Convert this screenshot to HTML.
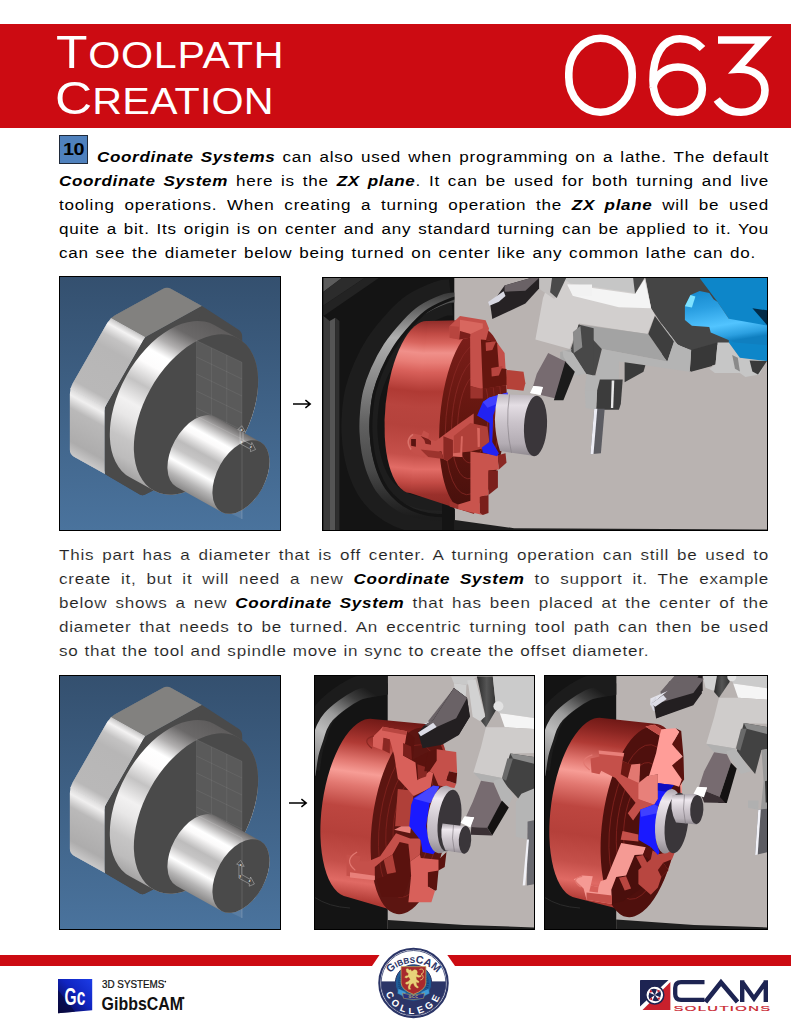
<!DOCTYPE html>
<html><head><meta charset="utf-8">
<style>
html,body{margin:0;padding:0;background:#fff;}
body{width:791px;height:1024px;position:relative;overflow:hidden;font-family:"Liberation Sans",sans-serif;}
.abs{position:absolute;}
.hdr{left:0;top:23.5px;width:791px;height:104px;background:#cc0b12;}
.ttl{color:#fff;white-space:nowrap;transform-origin:0 0;line-height:1;transform:scaleX(1.1);letter-spacing:1px;}
.ln{position:absolute;left:59px;height:24px;line-height:24px;font-size:15.5px;color:#000;white-space:nowrap;
    transform-origin:0 0;transform:scaleX(1.1);letter-spacing:0.7px;text-align:justify;text-align-last:justify;width:645.5px;}
.ln b{font-style:italic;font-weight:bold;letter-spacing:0.6px;}
.lt{color:#222;-webkit-text-stroke:0.12px #fff;}
.lt b{-webkit-text-stroke:0;color:#000;}
.frame{position:absolute;box-sizing:border-box;border:1px solid #000;overflow:hidden;}
</style></head><body>
<!-- header -->
<div class="abs hdr"></div>
<div class="abs ttl" id="t1" style="left:56px;top:29.3px;letter-spacing:0.65px"><span style="font-size:46.8px">T</span><span style="font-size:37.5px">OOLPATH</span></div>
<div class="abs ttl" id="t2" style="left:55px;top:74.9px;letter-spacing:0.15px"><span style="font-size:46.8px">C</span><span style="font-size:37.5px">REATION</span></div>
<svg class="abs" style="left:550px;top:23px" width="241" height="105" viewBox="550 23 241 105">
 <g fill="none" stroke="#fff" stroke-width="7.6">
  <rect x="568.8" y="38.3" width="63.4" height="74" rx="31.7" ry="35"/>
  <path d="M702.5,48.5 C696,41.5 688,38.8 680,38.8 C662,38.8 653,56 653,80 C653,100 662,112.2 677.5,112.2 C692,112.2 702.3,102 702.3,89 C702.3,76 692,67 678,67 C664,67 654,77 653,88"/>
  <path d="M718,40 L763.5,40 L737,69.3 C753,68.3 765,77 765,90 C765,103 755,112.2 741,112.2 C730,112.2 722,107 716.8,99.5"/>
 </g>
</svg>
<!-- step box -->
<div class="abs" style="left:59px;top:135px;width:29px;height:28.5px;box-sizing:border-box;border:1px solid #1f2a3a;background:#4f81bd;"></div>
<div class="abs" id="n10" style="left:59px;top:135px;width:29px;height:28px;line-height:29px;text-align:center;font-weight:bold;font-size:16.5px;letter-spacing:-0.5px;color:#000;transform:scaleX(1.2);">10</div>
<!-- paragraph 1 -->
<div class="ln" style="top:144.9px;left:97px;width:610.9px"><b>Coordinate Systems</b> can also used when programming on a lathe. The default</div>
<div class="ln" style="top:168.9px"><b>Coordinate System</b> here is the <b>ZX plane</b>. It can be used for both turning and live</div>
<div class="ln" style="top:192.9px">tooling operations. When creating a turning operation the <b>ZX plane</b> will be used</div>
<div class="ln" style="top:216.9px">quite a bit. Its origin is on center and any standard turning can be applied to it. You</div>
<div class="ln" style="top:241.1px;width:633.6px">can see the diameter below being turned on center like any common lathe can do.</div>
<!-- paragraph 2 -->
<div class="ln lt" style="top:543px">This part has a diameter that is off center. A turning operation can still be used to</div>
<div class="ln lt" style="top:566.9px">create it, but it will need a new <b>Coordinate System</b> to support it. The example</div>
<div class="ln lt" style="top:590.8px">below shows a new <b>Coordinate System</b> that has been placed at the center of the</div>
<div class="ln lt" style="top:614.7px">diameter that needs to be turned. An eccentric turning tool path can then be used</div>
<div class="ln lt" style="top:638.6px;width:536.6px">so that the tool and spindle move in sync to create the offset diameter.</div>

<!-- image frames -->
<div class="frame" id="im1" style="left:59px;top:276px;width:222px;height:255px;background:linear-gradient(#34506f,#4a739d);"><svg class="abs" style="left:-1px;top:-1px" width="222" height="255" viewBox="0 0 222 255"><g id="part">
<defs>
<linearGradient id="gFl" gradientUnits="userSpaceOnUse" x1="167.2" y1="55.8" x2="82.8" y2="207.9"><stop offset="0" stop-color="#5e5c5c"/><stop offset="0.12" stop-color="#6a6868"/><stop offset="0.22" stop-color="#b0aeae"/><stop offset="0.3" stop-color="#ffffff"/><stop offset="0.38" stop-color="#fdfcfc"/><stop offset="0.5" stop-color="#c4c3c3"/><stop offset="0.62" stop-color="#f2f1f1"/><stop offset="0.7" stop-color="#e8e7e7"/><stop offset="0.82" stop-color="#c6c5c5"/><stop offset="0.92" stop-color="#bdbcbc"/><stop offset="1" stop-color="#a5a4a4"/></linearGradient>
<linearGradient id="gCy" gradientUnits="userSpaceOnUse" x1="178.9" y1="153.5" x2="140.1" y2="223.5"><stop offset="0" stop-color="#6c6a6a"/><stop offset="0.1" stop-color="#a5a3a3"/><stop offset="0.25" stop-color="#ffffff"/><stop offset="0.32" stop-color="#fbfafa"/><stop offset="0.48" stop-color="#bdbcbc"/><stop offset="0.58" stop-color="#c6c5c5"/><stop offset="0.72" stop-color="#ffffff"/><stop offset="0.88" stop-color="#b5b4b4"/><stop offset="1" stop-color="#8a8989"/></linearGradient>
<linearGradient id="gH1" gradientUnits="userSpaceOnUse" x1="51" y1="42" x2="12" y2="112"><stop offset="0" stop-color="#c9c8c8"/><stop offset="0.07" stop-color="#f4f3f3"/><stop offset="0.2" stop-color="#c4c3c3"/><stop offset="0.35" stop-color="#b7b6b6"/><stop offset="0.9" stop-color="#b9b8b8"/><stop offset="1" stop-color="#d9d8d8"/></linearGradient>
<linearGradient id="gH2" gradientUnits="userSpaceOnUse" x1="11" y1="112" x2="-17" y2="163"><stop offset="0" stop-color="#dcdbdb"/><stop offset="0.1" stop-color="#f0efef"/><stop offset="0.3" stop-color="#bab9b9"/><stop offset="0.8" stop-color="#adacac"/><stop offset="1" stop-color="#c9c8c8"/></linearGradient>
<clipPath id="hexc"><path d="M112.4,12.9 Q108.0,10.5 103.6,12.9 L56.3,39.1 Q51.0,42.0 48.0,47.2 L13.8,107.1 Q10.8,112.3 10.8,118.3 L10.8,173.5 Q10.8,178.5 15.2,180.9 L45.8,198.0 L45.8,131.8 L86.0,61.5 L143.0,30.0 Z"/></clipPath>
</defs>
<path d="M143.0,30.0 L86.0,61.5 L45.8,131.8 L45.8,198.0 L80.8,218.5 Q83.4,220.0 86.1,218.6 L97.0,213.0 L185.0,130.0 L183.1,60.0 Q183.0,56.0 179.6,53.8 Z" fill="#4a4a4a"/>
<g clip-path="url(#hexc)">
<path d="M108.0,10.5 L51.0,42.0 L86.0,61.5 L143.0,30.0 Z" fill="#82817f" stroke="#82817f" stroke-width="1"/>
<path d="M51.0,42.0 L10.8,112.3 L45.8,131.8 L86.0,61.5 Z" fill="url(#gH1)" stroke="url(#gH1)" stroke-width="1"/>
<path d="M10.8,112.3 L10.8,178.5 L45.8,198.0 L45.8,131.8 Z" fill="url(#gH2)" stroke="url(#gH2)" stroke-width="1"/>
</g>
<path d="M143.0,30.0 L88.6,60.0 Q86.0,61.5 84.5,64.1 L47.3,129.2 Q45.8,131.8 45.8,134.8 L45.8,195.0 Q45.8,198.0 48.4,199.5 L80.8,218.5 Q83.4,220.0 86.1,218.6 L97.0,213.0 L120.0,120.0 Z" fill="#4a4a4a"/>
<path d="M155.2,49.1 A52.2 87.0 29 0 0 67.3,99.9 A52.2 87.0 29 0 0 70.8,201.3 L94.8,214.6 A52.2 87.0 29 0 0 182.7,163.8 A52.2 87.0 29 0 0 179.2,62.4 Z" fill="url(#gFl)"/>
<ellipse cx="137.0" cy="138.5" rx="52.2" ry="87.0" transform="rotate(29 137.0 138.5)" fill="#4a4a4a" />
<path d="M137.4,64.5 L183,86.3 L183,243 L137.4,221 Z" fill="#fff" fill-opacity="0.09"/>
<path d="M137.4,64.5 L183,86.3 L183,243 M137.4,64.5 V150 M152.6,72 V150 M167.8,79 V150 M137.4,81 L183,103 M137.4,98 L183,120 M137.4,115 L183,137 M137.4,132 L183,154" fill="none" stroke="#fff" stroke-opacity="0.09" stroke-width="0.7"/>
<path d="M156.4,141.0 A24.0 40.0 29 0 0 116.0,164.4 A24.0 40.0 29 0 0 117.6,211.0 L162.6,236.0 A24.0 40.0 29 0 0 203.0,212.6 A24.0 40.0 29 0 0 201.4,166.0 Z" fill="url(#gCy)"/>
<ellipse cx="182.0" cy="201.0" rx="24.0" ry="40.0" transform="rotate(29 182.0 201.0)" fill="#4a4a4a" />
<path d="M137.4,140 L183,163 L183,243" fill="none" stroke="#fff" stroke-opacity="0.18" stroke-width="0.7"/>
</g>
<g fill="none" stroke="#fff" stroke-opacity="0.6" stroke-width="0.55"><path d="M181.1,165.9 V154.3 L178.8,153.7 L182.8,149.7 L186.4,155.9 L184.0,155.5 V164.1"/><path d="M184.0,164.1 L192.4,168.9 L192.8,166.5 L196.6,173.5 L191.4,175.7 L191.6,173.3 L181.1,167.7 V165.9"/></g><g fill="#fff" font-family="Liberation Sans, sans-serif" font-weight="bold" font-size="3.6"><text x="181.6" y="155.1">x</text><text x="191.0" y="171.9">z</text><text x="181.8" y="166.7" font-size="2.6">y</text></g>
</svg></div>
<div class="frame" id="im2" style="left:322px;top:277px;width:446px;height:254px;background:#b9b3b1;"><svg class="abs" style="left:-1px;top:-1px" width="446" height="254" viewBox="0 0 446 254">
<defs>
<linearGradient id="cs" x1="0" y1="0" x2="0" y2="1"><stop offset="0" stop-color="#8e2b27"/><stop offset="0.08" stop-color="#b6403a"/><stop offset="0.2" stop-color="#d35a53"/><stop offset="0.34" stop-color="#f08f88"/><stop offset="0.42" stop-color="#e0706a"/><stop offset="0.58" stop-color="#b8443e"/><stop offset="0.72" stop-color="#c14d46"/><stop offset="0.80" stop-color="#e06a64"/><stop offset="0.88" stop-color="#c24a44"/><stop offset="1" stop-color="#9a302b"/></linearGradient>
<linearGradient id="ring" x1="0" y1="0" x2="1" y2="0"><stop offset="0" stop-color="#1d1d1d"/><stop offset="0.3" stop-color="#262626"/><stop offset="0.42" stop-color="#4a4a4a"/><stop offset="0.62" stop-color="#9a9a9a"/><stop offset="0.72" stop-color="#5a5a5a"/><stop offset="0.85" stop-color="#1a1a1a"/><stop offset="1" stop-color="#141414"/></linearGradient>
<linearGradient id="wp" x1="0" y1="0" x2="0" y2="1"><stop offset="0" stop-color="#bdb6bd"/><stop offset="0.18" stop-color="#e4dee4"/><stop offset="0.45" stop-color="#cbc4cb"/><stop offset="0.8" stop-color="#b3acb3"/><stop offset="1" stop-color="#8f898f"/></linearGradient>
<linearGradient id="cy" x1="0" y1="0" x2="0.25" y2="1"><stop offset="0" stop-color="#1487cc"/><stop offset="0.35" stop-color="#2a9fe2"/><stop offset="0.7" stop-color="#52c4ff"/><stop offset="0.9" stop-color="#2b9fe0"/><stop offset="1" stop-color="#0f7fc0"/></linearGradient>
<linearGradient id="rg" gradientUnits="userSpaceOnUse" x1="0" y1="10" x2="0" y2="240"><stop offset="0" stop-color="#2a2a2a"/><stop offset="0.1" stop-color="#666"/><stop offset="0.22" stop-color="#b0b0b0"/><stop offset="0.4" stop-color="#8a8a8a"/><stop offset="0.6" stop-color="#606060"/><stop offset="0.8" stop-color="#484848"/><stop offset="0.92" stop-color="#2c2c2c"/><stop offset="1" stop-color="#1c1c1c"/></linearGradient><linearGradient id="csu" gradientUnits="userSpaceOnUse" x1="0" y1="43" x2="0" y2="237"><stop offset="0" stop-color="#8e2b27"/><stop offset="0.02" stop-color="#9c3430"/><stop offset="0.07" stop-color="#c04a44"/><stop offset="0.12" stop-color="#d9655e"/><stop offset="0.17" stop-color="#f0908a"/><stop offset="0.22" stop-color="#e87d76"/><stop offset="0.27" stop-color="#d8605a"/><stop offset="0.37" stop-color="#b03a34"/><stop offset="0.45" stop-color="#b8443e"/><stop offset="0.55" stop-color="#b5423c"/><stop offset="0.70" stop-color="#c5504a"/><stop offset="0.77" stop-color="#e26c66"/><stop offset="0.84" stop-color="#c24a44"/><stop offset="0.9" stop-color="#9a302b"/><stop offset="1" stop-color="#8a2823"/></linearGradient><clipPath id="blk"><rect x="0" y="0" width="132.3" height="254"/></clipPath><linearGradient id="fc" x1="0" y1="0" x2="0" y2="1"><stop offset="0" stop-color="#7d1f1b"/><stop offset="0.5" stop-color="#63160f"/><stop offset="1" stop-color="#47100c"/></linearGradient></defs>
<rect x="0" y="0" width="132.3" height="254" fill="#141414"/>
<path d="M1.5,0.9 L19.9,0.9 L1.5,14.8 Z" fill="#5c5c5c" />
<path d="M1.5,14.8 L19.9,0.9 L42.7,0.9 L1.5,28.4 Z" fill="#2c2c2c" />
<path d="M1.5,28.4 L42.7,0.9 L56.9,0.9 L1.5,38.9 Z" fill="#232323" />
<path d="M1.5,38.9 L7.6,44.0 L7.6,254.1 L1.5,254.1 Z" fill="#3c3c3c" />
<path d="M7.6,44.0 L13.3,40.8 L13.3,254.1 L7.6,254.1 Z" fill="#555555" />
<path d="M13.3,40.8 L17.4,44.0 L17.4,254.1 L13.3,254.1 Z" fill="#2e2e2e" />
<g clip-path="url(#blk)" fill="none"><path d="M134.0,20.5 C132.2,20.7 129.2,19.7 123.5,21.8 C117.8,23.9 106.6,28.7 100.0,33.0 C93.4,37.3 89.7,41.4 84.0,47.6 C78.3,53.8 71.0,62.4 66.0,70.0 C61.0,77.6 57.0,85.5 53.7,93.0 C50.4,100.5 47.8,107.9 46.0,115.0 C44.2,122.1 43.6,128.9 43.0,135.6 C42.4,142.3 42.2,148.4 42.5,155.0 C42.8,161.6 43.4,168.3 44.6,175.0 C45.9,181.7 47.7,188.9 50.0,195.0 C52.3,201.1 54.9,206.6 58.2,211.4 C61.5,216.2 65.7,220.4 70.0,224.0 C74.3,227.6 79.0,230.4 84.0,232.7 C89.0,234.9 93.9,236.5 100.0,237.5 C106.1,238.5 114.6,238.9 120.4,238.8 C126.2,238.7 132.6,237.3 135.0,237.0" stroke="#1d1d1d" stroke-width="36" transform="translate(-5,0)"/><path d="M134.0,20.5 C132.2,20.7 129.2,19.7 123.5,21.8 C117.8,23.9 106.6,28.7 100.0,33.0 C93.4,37.3 89.7,41.4 84.0,47.6 C78.3,53.8 71.0,62.4 66.0,70.0 C61.0,77.6 57.0,85.5 53.7,93.0 C50.4,100.5 47.8,107.9 46.0,115.0 C44.2,122.1 43.6,128.9 43.0,135.6 C42.4,142.3 42.2,148.4 42.5,155.0 C42.8,161.6 43.4,168.3 44.6,175.0 C45.9,181.7 47.7,188.9 50.0,195.0 C52.3,201.1 54.9,206.6 58.2,211.4 C61.5,216.2 65.7,220.4 70.0,224.0 C74.3,227.6 79.0,230.4 84.0,232.7 C89.0,234.9 93.9,236.5 100.0,237.5 C106.1,238.5 114.6,238.9 120.4,238.8 C126.2,238.7 132.6,237.3 135.0,237.0" stroke="url(#rg)" stroke-width="10"/><path d="M134.0,20.5 C132.2,20.7 129.2,19.7 123.5,21.8 C117.8,23.9 106.6,28.7 100.0,33.0 C93.4,37.3 89.7,41.4 84.0,47.6 C78.3,53.8 71.0,62.4 66.0,70.0 C61.0,77.6 57.0,85.5 53.7,93.0 C50.4,100.5 47.8,107.9 46.0,115.0 C44.2,122.1 43.6,128.9 43.0,135.6 C42.4,142.3 42.2,148.4 42.5,155.0 C42.8,161.6 43.4,168.3 44.6,175.0 C45.9,181.7 47.7,188.9 50.0,195.0 C52.3,201.1 54.9,206.6 58.2,211.4 C61.5,216.2 65.7,220.4 70.0,224.0 C74.3,227.6 79.0,230.4 84.0,232.7 C89.0,234.9 93.9,236.5 100.0,237.5 C106.1,238.5 114.6,238.9 120.4,238.8 C126.2,238.7 132.6,237.3 135.0,237.0" stroke="#141414" stroke-width="3" transform="translate(6.5,0)"/></g>
<path d="M132.9,243.1 L192.1,251.2 L446.2,252.5 L446.2,255.0 L132.9,255.0 Z" fill="#1e1e1e" />
<path d="M120.0,219.0 L132.9,232.3 L132.9,255.0 L120.0,255.0 Z" fill="#141414" />
<path d="M323.4,0.9 L329.1,31.3 L338.6,45.5 L353.8,64.5 L369.0,74.0 L390.0,69.2 L448.6,56.9 L448.6,0.9 Z" fill="#454545" />
<path d="M369.0,74.0 L390.0,69.2 L390.0,89.1 L369.0,94.8 Z" fill="#3a3a3a" />
<path d="M340.0,1.1 L381.7,1.1 L406.8,65.4 L395.6,65.4 L369.2,73.0 L356.0,68.2 L340.0,45.9 Z" fill="#454545" />
<path d="M369.2,73.0 L395.6,65.4 L393.5,87.6 L367.8,94.6 Z" fill="#383838" />
<path d="M340.0,47.3 L356.0,68.2 L369.2,73.0 L367.8,94.6 L340.0,84.8 Z" fill="#b0b0b0" />
<path d="M340.0,52.9 L350.4,62.6 L345.6,83.4 L340.0,79.3 Z" fill="#404040" />
<path d="M395.6,65.4 L406.8,65.4 L417.9,80.7 L445.0,83.4 L437.4,97.4 L423.4,100.1 L417.9,96.0 L392.9,96.0 L387.3,91.8 L393.5,87.6 Z" fill="#c6c6c6" />
<path d="M427.6,83.4 L445.0,84.1 L436.0,97.4 L430.4,94.6 Z" fill="#3a3a3a" />
<path d="M410.2,77.9 L415.8,80.7 L417.9,94.6 L413.0,91.8 Z" fill="#8a8a8a" />
<path d="M377.6,1.1 L445.7,1.1 L445.7,84.1 L417.9,80.7 L406.8,65.4 L406.8,41.7 L395.6,25.0 Z" fill="#0d86c9" />
<path d="M430.4,31.3 L445.7,33.4 L445.7,48.7 Z" fill="#022b47" />
<path d="M362.9,29.2 L368.5,18.1 L377.6,13.9 L387.3,16.0 L391.5,22.3 L395.6,25.0 L406.8,41.7 L445.7,48.7 L445.7,68.2 L412.3,65.4 L388.7,55.6 L387.3,50.1 L369.9,48.7 L362.9,43.1 Z" fill="url(#cy)" />
<path d="M362.9,29.2 L368.5,18.1 L373.4,19.5 L369.9,30.6 Z" fill="#7fe2ff" />
<path d="M228.6,0.9 L312.1,0.9 L313.0,17.1 L323.4,1.9 L329.1,31.3 L332.9,37.9 L325.3,56.9 L257.1,46.5 L247.6,72.1 L213.4,62.6 L221.0,20.9 Z" fill="#d2cfce" />
<path d="M240.0,0.9 L311.1,0.9 L313.0,16.1 L248.5,6.6 Z" fill="#c6c6c6" />
<path d="M245.7,7.6 L313.0,17.1 L322.5,1.9 L329.1,31.3 L296.9,30.3 L251.4,19.0 Z" fill="#f4f4f4" />
<path d="M311.1,0.9 L322.5,0.9 L313.0,16.7 Z" fill="#4a4a4a" />
<path d="M216.7,0.9 L231.9,0.9 L233.8,20.9 L231.9,21.8 L216.7,11.4 Z" fill="#c2bfbe" />
<path d="M230.0,0.9 L244.2,0.9 L234.7,20.9 L228.1,15.2 Z" fill="#4a4a4a" />
<path d="M245.2,7.6 L270.0,7.6 L270.0,19.0 L250.9,19.0 Z" fill="#f2f2f2" />
<path d="M257.1,47.4 L326.3,56.9 L345.3,84.4 L279.8,72.1 Z" fill="#a3a3a3" />
<path d="M332.9,38.9 L351.9,64.5 L345.3,84.4 L326.3,56.9 Z" fill="#3e3e3e" />
<path d="M279.8,72.1 L345.3,84.4 L351.9,65.4 L369.0,74.0 L367.1,94.8 L323.4,88.2 L296.9,84.4 L296.9,102.4 L274.1,113.8 L262.8,113.8 L264.7,94.8 L274.1,98.6 Z" fill="#b4b4b4" />
<path d="M257.1,47.4 L279.8,72.1 L273.2,98.6 L262.8,94.8 L248.5,73.0 Z" fill="#484848" />
<path d="M238.1,74.9 L249.5,72.1 L263.7,92.9 L257.1,98.6 L238.1,81.5 Z" fill="#a9a9a9" />
<path d="M302.6,85.3 L323.4,88.2 L321.5,94.8 L302.6,105.3 Z" fill="#3a3a3a" />
<path d="M275.1,113.8 L277.9,102.4 L300.7,102.4 L298.8,127.1 L296.9,132.8 L274.1,132.8 Z" fill="#3c3c3c" />
<path d="M289.7,103.4 L292.3,103.4 L291.2,130.9 L288.9,130.9 Z" fill="#e8e8e8" />
<path d="M262.8,113.8 L275.1,113.8 L274.1,132.8 L263.7,130.9 Z" fill="#b4b4b4" />
<path d="M272.2,131.7 L282.7,131.7 L278.9,176.3 L268.4,177.3 Z" fill="#5c5c62" />
<path d="M272.2,131.7 L275.3,131.7 L271.5,176.9 L268.4,177.3 Z" fill="#ececf4" />
<path d="M256.5,47.4 L271.7,51.2 L271.7,98.6 L264.1,96.7 L249.0,74.0 Z" fill="#484848" />
<path d="M250.9,55.0 L258.4,48.9 L260.3,70.2 L251.8,75.9 Z" fill="#8c8c8c" />
<path d="M240.4,73.0 L250.9,75.9 L264.1,96.7 L252.8,98.6 L241.4,79.7 Z" fill="#b5b5b5" />
<path d="M226.2,75.9 L241.4,83.4 L244.2,84.4 L233.8,121.4 L209.1,115.7 L214.8,96.7 Z" fill="#776b70" />
<path d="M243.3,84.4 L252.8,94.8 L241.4,123.3 L231.9,123.3 Z" fill="#1b1b1b" />
<path d="M208.2,116.1 L211.4,109.0 L220.9,110.0 L218.6,118.0 Z" fill="#ffffff" />
<path d="M182.6,8.5 L209.1,0.9 L217.1,0.9 L217.1,11.4 L203.4,26.6 L170.3,42.1 L168.4,28.4 Z" fill="#262224" />
<path d="M182.6,8.5 L209.1,0.9 L217.1,0.9 L203.4,13.7 L182.6,14.8 Z" fill="#6a6266" />
<path d="M166.1,25.0 L181.6,14.2 L183.5,19.0 L176.9,24.7 L167.4,28.8 Z" fill="#d8d8e2" />
<g fill="url(#csu)"><ellipse cx="97" cy="130" rx="33.5" ry="86.5" transform="rotate(6 97 130)"/><path d="M106,44 L150,43 L186,140 L152,237 L88,216 Z"/></g>
<ellipse cx="151" cy="142" rx="33" ry="92" transform="rotate(5 151 142)" fill="url(#fc)"/>
<g fill="none" stroke="#8a2a25" stroke-width="0.9" stroke-opacity="0.8"><ellipse cx="151" cy="142" rx="27" ry="76" transform="rotate(5 151 142)"/><ellipse cx="151" cy="142" rx="21" ry="60" transform="rotate(5 151 142)"/><ellipse cx="151" cy="142" rx="15" ry="44" transform="rotate(5 151 142)"/></g>
<path d="M85.3,164.0 L91.0,156.4 L99.6,158.3 L101.5,153.6 L107.1,156.4 L106.2,162.1 L113.8,164.0 L132.8,149.8 L151.7,136.5 L151.7,157.3 L140.3,163.0 L139.4,180.1 L130.9,179.2 L125.2,183.9 L121.4,182.0 L119.5,174.4 L103.4,172.5 L102.4,181.0 L94.8,178.2 L86.3,172.5 Z" fill="#c5504a" />
<path d="M89.1,162.1 L93.9,162.1 L93.9,169.7 L89.1,168.7 Z" fill="#5a1411" />
<path d="M98.6,158.9 L106.2,162.1 L109.0,164.0 L109.0,167.8 L103.4,166.8 L102.4,163.0 Z" fill="#7a1f1b" />
<path d="M130.9,159.2 L140.3,158.3 L140.3,180.1 L130.9,179.2 Z" fill="#d8675f" />
<path d="M121.4,159.2 L130.9,163.0 L130.9,179.2 L125.2,183.9 L121.4,182.0 Z" fill="#8a2823" />
<path d="M98.6,172.5 L119.5,174.8 L121.4,182.0 L106.2,180.1 Z" fill="#9c332d" />
<path d="M91.0,157.3 Q82.5,163.0 89.1,172.5" fill="none" stroke="#d9726a" stroke-width="1.5"/>
<path d="M127.6,48.9 L138.0,38.9 L163.6,43.2 L167.0,51.6 L164.0,63.0 L175.0,65.4 L182.6,75.9 L183.5,91.0 L185.4,108.1 L157.9,111.9 L148.4,109.0 L148.1,60.7 L137.1,62.6 L127.6,60.7 Z" fill="#c5504a" />
<path d="M164.0,63.0 L175.0,65.4 L176.9,91.0 L184.5,92.0 L185.4,108.1 L160.8,111.9 L158.9,62.6 Z" fill="#65160f" />
<path d="M138.0,42.7 L160.8,46.5 L160.8,51.2 L148.4,56.9 L138.0,54.0 Z" fill="#d8675f" />
<path d="M138.0,54.0 L148.4,56.9 L148.1,60.7 L137.1,62.6 Z" fill="#7a1f1b" />
<path d="M163.6,65.4 L174.0,64.5 L170.3,73.0 L164.0,74.0 Z" fill="#b8453f" />
<path d="M169.3,91.0 L180.7,89.1 L176.9,98.6 L169.7,99.6 Z" fill="#b8453f" />
<path d="M127.6,48.9 L137.1,49.7 L137.1,62.6 L127.6,60.7 Z" fill="#b8453f" />
<path d="M184.5,92.9 L201.5,94.8 L203.4,106.2 L201.5,113.8 L184.5,111.9 Z" fill="#b54239" />
<path d="M148.4,109.0 L160.8,111.9 L160.8,121.4 L148.4,121.4 Z" fill="#9c332d" />
<path d="M148.4,146.0 L165.5,149.8 L167.4,164.9 L160.8,171.6 L148.4,174.4 L131.4,176.3 L131.4,159.2 Z" fill="#b04039" />
<path d="M139.0,159.2 L140.9,159.2 L139.9,180.1 L138.0,180.1 Z" fill="#d8675f" />
<path d="M155.1,150.7 L157.9,151.3 L157.9,169.7 L155.7,170.2 Z" fill="#d8675f" />
<path d="M148.4,174.4 L175.9,178.2 L176.9,192.4 L166.5,193.4 L166.5,218.0 L157.9,219.9 L157.9,236.0 L160.8,237.9 L136.1,232.3 L136.1,227.5 L148.4,223.7 Z" fill="#c9544d" />
<path d="M175.9,178.2 L183.5,176.3 L184.5,185.8 L176.9,192.4 Z" fill="#8a2823" />
<path d="M166.5,193.4 L175.9,193.4 L175.9,210.4 L166.5,218.0 Z" fill="#7a1f1b" />
<path d="M157.9,219.9 L166.5,218.0 L166.5,236.0 L160.8,237.9 L157.9,236.0 Z" fill="#7a1f1b" />
<path d="M127.6,223.7 L136.1,227.5 L136.1,232.3 L127.6,229.4 Z" fill="#9c332d" />
<path d="M155.1,138.4 L160.8,125.1 L167.4,120.4 L185.4,115.6 L186.4,123.2 L175.0,127.0 L171.2,138.4 L170.3,164.9 L176.9,176.3 L175.0,179.2 L160.8,175.4 L159.8,170.6 L167.4,164.9 L167.4,146.0 Z" fill="#2222f2" />
<path d="M160.8,125.1 L167.4,120.4 L185.4,115.6 L186.4,123.2 L175.0,127.0 L165.5,130.8 Z" fill="#4040ff" />
<path d="M176,117 L213,118.5 L213,179 L178,174 Q169,146 176,117 Z" fill="url(#wp)"/>
<path d="M187.5,117.5 Q183,148 189.5,176" fill="none" stroke="#8a848a" stroke-width="0.7"/>
<ellipse cx="213.5" cy="149" rx="11.5" ry="30.3" transform="rotate(3 213.5 149)" fill="#3a363a"/>
<path d="M208.2,116.1 L211.4,109.0 L220.9,110.0 L218.6,118.0 Z" fill="#ffffff" />
</svg></div>
<div class="frame" id="im3" style="left:59px;top:675px;width:222px;height:255px;background:linear-gradient(#34506f,#4a739d);"><svg class="abs" style="left:-1px;top:-1px" width="222" height="255" viewBox="0 0 222 255"><use href="#part"/>
<g fill="none" stroke="#fff" stroke-opacity="0.6" stroke-width="0.55"><path d="M179.9,201.4 V189.8 L177.6,189.2 L181.6,185.2 L185.2,191.4 L182.8,191.0 V199.6"/><path d="M182.8,199.6 L191.2,204.4 L191.6,202.0 L195.4,209.0 L190.2,211.2 L190.4,208.8 L179.9,203.2 V201.4"/></g><g fill="#fff" font-family="Liberation Sans, sans-serif" font-weight="bold" font-size="3.6"><text x="180.4" y="190.6">x</text><text x="189.8" y="207.4">z</text><text x="180.6" y="202.2" font-size="2.6">y</text></g>
</svg></div>
<div class="frame" id="im4" style="left:314px;top:675px;width:221px;height:255px;background:#b9b3b1;"><svg class="abs" style="left:-1px;top:-1px" width="221" height="255" viewBox="0 0 221 255">
<defs>
<linearGradient id="rg4" gradientUnits="userSpaceOnUse" x1="50" y1="12" x2="-5" y2="95"><stop offset="0" stop-color="#1c1c1c"/><stop offset="0.15" stop-color="#3c3c3c"/><stop offset="0.4" stop-color="#9a9a9a"/><stop offset="0.6" stop-color="#bcbcbc"/><stop offset="0.8" stop-color="#9c9c9c"/><stop offset="1" stop-color="#6a6a6a"/></linearGradient>
<linearGradient id="cs4" gradientUnits="userSpaceOnUse" x1="60" y1="42" x2="35" y2="225"><stop offset="0" stop-color="#6e1815"/><stop offset="0.07" stop-color="#8a2521"/><stop offset="0.15" stop-color="#b03a34"/><stop offset="0.25" stop-color="#e27871"/><stop offset="0.31" stop-color="#f79d96"/><stop offset="0.38" stop-color="#e27871"/><stop offset="0.5" stop-color="#bd4640"/><stop offset="0.65" stop-color="#b5403a"/><stop offset="0.8" stop-color="#c5504a"/><stop offset="0.9" stop-color="#e06a64"/><stop offset="1" stop-color="#b03a34"/></linearGradient>
<linearGradient id="wp4" x1="0" y1="0" x2="0" y2="1"><stop offset="0" stop-color="#a9a2a9"/><stop offset="0.2" stop-color="#efe9ef"/><stop offset="0.5" stop-color="#d0c9d0"/><stop offset="0.8" stop-color="#b8b1b8"/><stop offset="1" stop-color="#8f898f"/></linearGradient>
<linearGradient id="dk4" x1="0" y1="0" x2="1" y2="0"><stop offset="0" stop-color="#2a2a2a"/><stop offset="0.5" stop-color="#555"/><stop offset="1" stop-color="#333"/></linearGradient>
<clipPath id="blk4"><rect x="0" y="0" width="73.7" height="255"/></clipPath>
</defs>
<rect x="0" y="0" width="73.7" height="255" fill="#141414"/>
<g clip-path="url(#blk4)" fill="none"><path d="M90,13 L75,13.6 L60.0,16.0 C58.8,16.2 55.5,16.7 52.8,17.4 C50.1,18.1 47.9,18.1 43.8,20.2 C39.7,22.3 32.9,26.4 28.0,30.0 C23.1,33.6 17.9,38.0 14.6,41.7 C11.3,45.4 9.8,48.0 8.0,52.0 C6.2,56.0 5.0,60.7 3.5,65.4 C2.0,70.1 0.2,74.2 -1.0,80.0 C-2.2,85.8 -3.5,96.7 -4.0,100.0" stroke="#1c1c1c" stroke-width="24" transform="translate(-2,-6)"/><path d="M90,13 L75,13.6 L60.0,16.0 C58.8,16.2 55.5,16.7 52.8,17.4 C50.1,18.1 47.9,18.1 43.8,20.2 C39.7,22.3 32.9,26.4 28.0,30.0 C23.1,33.6 17.9,38.0 14.6,41.7 C11.3,45.4 9.8,48.0 8.0,52.0 C6.2,56.0 5.0,60.7 3.5,65.4 C2.0,70.1 0.2,74.2 -1.0,80.0 C-2.2,85.8 -3.5,96.7 -4.0,100.0" stroke="url(#rg4)" stroke-width="11"/><path d="M0,222 Q15,232 36,233" stroke="#2c2c2c" stroke-width="1"/></g>
<path d="M73.7,245 L150,250 L221,252.5 V255 H73.7 Z" fill="#1e1e1e"/>
<path d="M137.1,1.4 L162.9,1.4 L153.1,9.7 L139.9,8.3 Z" fill="#c9c9c9" />
<path d="M139.9,8.3 L152.4,9.7 L151.7,22.9 L141.3,19.5 Z" fill="#d0d0d0" />
<path d="M162.9,1.4 L178.8,1.4 L182.3,34.8 L171.9,52.2 L167.0,45.9 L171.2,40.3 Z" fill="url(#dk4)" />
<path d="M153.1,5.6 L161.5,4.2 L171.2,41.7 L165.6,45.9 L158.7,41.7 L154.5,11.1 Z" fill="#d2d2d2" />
<path d="M178.8,1.4 L221.3,1.4 L221.3,43.1 L185.8,38.2 L182.3,34.8 Z" fill="#cbcbcb" />
<circle cx="184.4" cy="31.3" r="5" fill="#e2e2e2"/>
<path d="M185.8,38.2 L221.3,43.1 L221.3,54.2 L190.7,52.2 Z" fill="#f5f5f5" />
<path d="M171.9,52.2 L190.7,52.2 L221.3,54.2 L221.3,77.9 L196.2,78.6 L187.9,102.9 L159.4,97.4 L167.0,72.3 Z" fill="#cfcccb" />
<path d="M159.4,97.4 L187.9,102.9 L179.5,107.8 L167.0,105.7 Z" fill="#b0b0b0" />
<path d="M196.2,78.6 L221.3,82.1 L221.3,139.1 L207.4,127.0 L187.9,105.7 Z" fill="#424242" />
<path d="M196.2,78.6 L221.3,82.1 L221.3,89.0 L199.0,83.4 Z" fill="#8a8a8a" />
<path d="M193.4,83.4 L199.0,83.4 L192.1,105.7 L187.9,103.6 Z" fill="#6a6a6a" />
<path d="M179.5,105.7 L187.9,102.9 L199.0,121.0 L194.8,130.7 L187.9,127.0 Z" fill="#b5b5b5" />
<path d="M167.0,105.7 L179.5,107.8 L187.9,127.0 L173.3,153.0 L157.3,152.0 L151.7,142.3 L158.7,127.0 Z" fill="#776b70" />
<path d="M157.3,152.0 L173.3,152.7 L178.2,160.4 L156.6,159.7 Z" fill="#3a3034" />
<path d="M187.9,125.6 L194.8,132.6 L178.2,160.4 L173.3,152.7 Z" fill="#141212" />
<path d="M146.9,147.9 L150.3,141.6 L160.1,142.3 L156.6,149.9 Z" fill="#ffffff" />
<path d="M207.4,118.7 L221.3,113.1 L221.3,145.1 L213.6,146.5 L212.9,164.6 L201.8,161.8 L201.8,127.0 Z" fill="#b5b5b5" />
<path d="M213.6,146.5 L221.3,145.1 L221.3,209.1 L212.9,210.4 Z" fill="#6a6a70" />
<path d="M212.9,164.6 L215.0,164.6 L211.3,210.2 L208.7,210.4 Z" fill="#f2f2f8" />
<path d="M110.0,55.6 L121.1,40.3 L139.9,13.2 L153.1,22.9 L155.9,41.7 L144.8,59.8 L110.0,73.7 Z" fill="#231f21" />
<path d="M114.2,45.9 L139.9,13.2 L153.1,22.9 L142.7,44.5 L118.3,52.9 Z" fill="#6a6266" />
<path d="M104.4,50.8 L122.5,44.5 L115.6,54.9 L104.4,59.8 Z" fill="#e2e2ea" />
<path d="M104.3,57.7 L110.0,53.5 L110.0,61.2 L105.7,61.2 Z" fill="#d8d8e2" />
<path d="M58.5,43.9 L111.2,48.9 A36 95 8 0 1 133.6,148.0 A36 95 8 0 1 84.8,237.1 L33.5,222.1 A38 90 8 0 1 8.4,127.7 A38 90 8 0 1 58.5,43.9 Z" fill="url(#cs4)"/>
<ellipse cx="96" cy="146" rx="37.5" ry="94" transform="rotate(8 96 146)" fill="#5c1511"/>
<g fill="none" stroke="#7d211c" stroke-width="0.9"><ellipse cx="96" cy="146" rx="30" ry="77" transform="rotate(8 96 146)"/><ellipse cx="96" cy="146" rx="23" ry="60" transform="rotate(8 96 146)"/><ellipse cx="96" cy="146" rx="16" ry="43" transform="rotate(8 96 146)"/></g>
<path d="M83.8,114.0 L99.7,115.8 L97.1,151.2 L81.1,151.2 Z" fill="#b04039" />
<path d="M87.3,151.2 L97.1,151.2 L96.2,158.3 L80.2,154.7 Z" fill="#e8807a" />
<path d="M92.6,56.5 L100.6,62.7 L98.8,84.8 L113.9,76.9 L111.2,96.3 L104.1,104.3 L89.1,82.2 Z" fill="#5a120e" />
<path d="M66.1,54.7 L68.7,51.7 L93.0,56.2 L89.1,80.4 L101.5,87.5 L103.3,105.2 L115.6,96.3 L119.2,98.1 L116.5,113.1 L99.7,121.1 L83.8,103.4 L80.2,80.4 L75.8,64.5 L69.6,62.7 L67.9,75.1 L59.0,71.5 L59.0,61.8 Z" fill="#d8605a" />
<path d="M69.6,62.7 L75.8,64.5 L75.8,78.6 L68.7,75.1 Z" fill="#8a2823" />
<path d="M89.1,68.0 L97.1,71.5 L97.9,84.8 L89.1,80.4 Z" fill="#7a1f1b" />
<path d="M103.3,89.2 L113.9,92.8 L112.1,101.6 L104.1,104.3 Z" fill="#8a2823" />
<path d="M68.7,51.7 L93.0,56.2 L91.8,60.0 L67.9,55.6 Z" fill="#b84640" />
<path d="M59.9,60.9 Q46.6,64.5 58.1,73.3" fill="none" stroke="#8a2823" stroke-width="1.2"/>
<path d="M113.9,76.9 L122.7,74.2 L122.7,85.7 L115.6,96.3 L110.3,96.3 Z" fill="#5a120e" />
<path d="M122.7,74.2 L142.2,76.9 L143.1,98.1 L135.1,96.3 L132.5,105.2 L142.2,108.7 L140.4,113.1 L124.5,110.5 L119.2,98.1 L115.6,96.3 L122.7,85.7 Z" fill="#c5504a" />
<path d="M135.1,96.3 L143.1,98.1 L142.2,108.7 L132.5,105.2 Z" fill="#5a120e" />
<path d="M78.5,179.5 L85.6,167.1 L94.4,168.9 L96.2,186.6 L97.1,200.8 L89.1,222.0 L67.9,222.0 L62.5,204.3 L82.0,197.2 Z" fill="#5a120e" />
<path d="M32.5,179.5 L46.6,181.3 L45.7,186.6 L53.7,186.6 L66.1,181.3 L82.0,158.3 L96.2,163.6 L106.8,163.6 L105.9,179.5 L96.2,186.6 L94.4,168.9 L85.6,167.1 L78.5,179.5 L69.6,184.8 L60.8,191.9 L60.8,204.3 L32.5,200.8 Z" fill="#c5504a" />
<path d="M69.6,184.8 L78.5,179.5 L82.0,197.2 L73.2,199.0 Z" fill="#b04039" />
<path d="M36.0,197.2 L60.8,200.8 L60.8,205.2 L36.0,202.5 Z" fill="#e8807a" />
<path d="M43.1,176.9 Q28.9,184.8 41.3,195.4" fill="none" stroke="#e27871" stroke-width="1.2"/>
<path d="M124.5,184.8 L132.5,176.9 L130.7,191.9 L124.5,195.4 L122.7,214.9 L121.0,215.8 L113.9,211.4 L113.9,197.2 Z" fill="#5a120e" />
<path d="M96.2,186.6 L105.9,179.5 L106.8,183.1 L124.5,184.8 L124.5,195.4 L113.9,197.2 L113.9,211.4 L121.0,215.8 L117.4,227.3 L94.4,227.3 L97.1,200.8 Z" fill="#d8605a" />
<path d="M99.7,122.9 L119.2,110.5 L125.4,111.4 L115.6,128.2 L112.1,151.2 L115.6,168.9 L121.8,176.0 L119.2,179.2 L108.6,176.9 L106.8,165.4 L95.3,151.2 L97.1,130.0 Z" fill="#1a1aff" />
<path d="M100.1,123.8 L119.2,110.8 L125.4,111.5 L116.5,128.2 Z" fill="#4646ff" />
<ellipse cx="128.5" cy="144.5" rx="15" ry="34" transform="rotate(7 128.5 144.5)" fill="url(#wp4)"/>
<ellipse cx="135.5" cy="145.5" rx="11.5" ry="31" transform="rotate(7 135.5 145.5)" fill="#3a363a"/>
<path d="M128.5,148.5 L151,151.2 L151,178.6 L131.5,175.5 Q125,162 128.5,148.5 Z" fill="url(#wp4)"/>
<path d="M139.5,150 Q137,163 140.5,177" fill="none" stroke="#7a747a" stroke-width="0.6"/>
<ellipse cx="151" cy="164.9" rx="6.2" ry="13.8" transform="rotate(3 151 164.9)" fill="#3a363a"/>
<path d="M104.1,57.4 L110.3,50.3 L119.2,45.0 L139.9,13.1 L153.0,22.9 L155.8,41.6 L144.8,59.9 L128.0,69.8 L108.6,73.3 Z" fill="#231f21" />
<path d="M110.3,50.3 L119.2,45.0 L139.9,13.1 L153.0,22.9 L142.2,43.2 L122.7,52.1 Z" fill="#6a6266" />
<path d="M104.1,57.4 L119.2,47.7 L122.7,52.1 L106.8,61.3 Z" fill="#dcdce6" />
<path d="M146.6,147.7 L151.0,141.5 L160.2,142.3 L156.4,152.4 Z" fill="#ffffff" />
</svg></div>
<div class="frame" id="im5" style="left:544px;top:675px;width:224px;height:255px;background:#b9b3b1;"><svg class="abs" style="left:-1px;top:-1px" width="224" height="255" viewBox="0 0 224 255">
<defs>
<linearGradient id="rg5" gradientUnits="userSpaceOnUse" x1="50" y1="12" x2="-5" y2="95"><stop offset="0" stop-color="#1c1c1c"/><stop offset="0.15" stop-color="#3c3c3c"/><stop offset="0.4" stop-color="#9a9a9a"/><stop offset="0.6" stop-color="#bcbcbc"/><stop offset="0.8" stop-color="#9c9c9c"/><stop offset="1" stop-color="#6a6a6a"/></linearGradient>
<clipPath id="blk5"><rect x="0" y="0" width="72.2" height="255"/></clipPath>
</defs>
<rect x="0" y="0" width="72.2" height="255" fill="#141414"/>
<g clip-path="url(#blk5)" fill="none"><path d="M90,13 L75,13.6 L60.0,16.0 C58.8,16.2 55.5,16.7 52.8,17.4 C50.1,18.1 47.9,18.1 43.8,20.2 C39.7,22.3 32.9,26.4 28.0,30.0 C23.1,33.6 17.9,38.0 14.6,41.7 C11.3,45.4 9.8,48.0 8.0,52.0 C6.2,56.0 5.0,60.7 3.5,65.4 C2.0,70.1 0.2,74.2 -1.0,80.0 C-2.2,85.8 -3.5,96.7 -4.0,100.0" stroke="#1c1c1c" stroke-width="24" transform="translate(-2,-6)"/><path d="M90,13 L75,13.6 L60.0,16.0 C58.8,16.2 55.5,16.7 52.8,17.4 C50.1,18.1 47.9,18.1 43.8,20.2 C39.7,22.3 32.9,26.4 28.0,30.0 C23.1,33.6 17.9,38.0 14.6,41.7 C11.3,45.4 9.8,48.0 8.0,52.0 C6.2,56.0 5.0,60.7 3.5,65.4 C2.0,70.1 0.2,74.2 -1.0,80.0 C-2.2,85.8 -3.5,96.7 -4.0,100.0" stroke="url(#rg5)" stroke-width="11"/><path d="M0,222 Q15,232 36,233" stroke="#2c2c2c" stroke-width="1"/></g>
<path d="M72.2,244.5 L150,250 L224,252.5 V255 H72.2 Z" fill="#1e1e1e"/>
<path d="M158.7,1.1 L172.9,1.1 L174.3,14.2 L168.6,15.6 L161.6,12.7 Z" fill="#d2d2d2" />
<path d="M172.9,1.1 L185.6,1.1 L185.6,7.1 L175.0,22.7 L170.1,17.0 Z" fill="url(#dk4)" />
<path d="M185.6,1.1 L225.3,1.1 L225.3,13.5 L189.2,8.5 Z" fill="#cbcbcb" />
<circle cx="187.8" cy="1.7" r="4.5" fill="#e2e2e2"/>
<path d="M189.2,8.5 L225.3,13.5 L225.3,24.8 L194.1,22.7 Z" fill="#f5f5f5" />
<path d="M175.0,22.7 L194.1,22.7 L225.3,24.8 L225.3,48.8 L199.8,48.1 L191.3,73.6 L162.3,68.7 L170.1,42.5 Z" fill="#cfcccb" />
<path d="M162.3,68.7 L191.3,73.6 L182.8,79.3 L170.1,77.2 Z" fill="#b0b0b0" />
<path d="M199.8,48.1 L225.3,52.4 L225.3,73.6 L217.5,75.0 L211.1,99.1 L192.7,76.5 Z" fill="#424242" />
<path d="M199.8,48.1 L225.3,52.4 L225.3,59.5 L202.6,53.8 Z" fill="#8a8a8a" />
<path d="M197.0,53.8 L202.6,53.8 L196.2,75.8 L192.0,73.6 Z" fill="#6a6a6a" />
<path d="M182.1,76.5 L191.3,73.6 L206.9,96.3 L197.0,99.1 Z" fill="#b5b5b5" />
<path d="M170.1,77.2 L182.8,79.3 L187.0,87.8 L175.7,121.8 L154.5,113.3 L160.1,96.3 Z" fill="#776b70" />
<path d="M187.0,87.8 L192.7,93.5 L182.8,128.1 L174.3,128.1 L175.7,121.8 Z" fill="#141212" />
<path d="M154.5,113.3 L175.7,121.8 L181.4,128.1 L160.1,127.4 Z" fill="#3a3034" />
<path d="M149.5,118.9 L153.1,111.9 L163.0,112.6 L159.4,121.8 Z" fill="#ffffff" />
<path d="M217.5,75.0 L225.3,73.6 L225.3,135.9 L216.8,134.5 L219.6,106.2 Z" fill="#9a9a9a" />
<path d="M204.0,125.6 L214.7,125.6 L214.2,134.8 L204.0,132.7 Z" fill="#b0b0b0" />
<path d="M214.2,134.8 L225.3,133.4 L225.3,176.6 L211.1,180.1 Z" fill="#5c5c62" />
<path d="M214.2,134.8 L216.8,134.5 L213.7,179.7 L211.1,180.1 Z" fill="#f2f2f8" />
<path d="M221.0,106.2 L225.3,105.5 L225.3,127.4 L221.7,127.4 Z" fill="#3a3a3a" />
<path d="M112.0,25.5 L125.5,6.4 L142.4,1.1 L158.7,1.1 L158.7,15.6 L147.4,29.7 L112.0,43.2 Z" fill="#231f21" />
<path d="M116.2,17.0 L130.4,1.1 L154.5,1.1 L145.3,14.2 L120.5,22.7 Z" fill="#6a6266" />
<path d="M106.3,23.4 L124.7,15.6 L118.4,26.2 L106.3,30.4 Z" fill="#e2e2ea" />
<path d="M106.2,28.3 L112.0,21.2 L113.3,36.8 L109.0,35.4 Z" fill="#d8d8e2" />
<path d="M57.7,42.9 L113.2,48.9 A36 95 8 0 1 135.6,148.0 A36 95 8 0 1 86.8,237.1 L32.3,223.1 A38 91 8 0 1 7.4,127.7 A38 91 8 0 1 57.7,42.9 Z" fill="url(#cs4)"/>
<ellipse cx="96.5" cy="147" rx="38" ry="96" transform="rotate(8 96.5 147)" fill="#4f100d"/>
<g fill="none" stroke="#7d211c" stroke-width="0.9"><ellipse cx="96.5" cy="147" rx="30" ry="78" transform="rotate(8 96.5 147)"/><ellipse cx="96.5" cy="147" rx="23" ry="60" transform="rotate(8 96.5 147)"/><ellipse cx="96.5" cy="147" rx="16" ry="43" transform="rotate(8 96.5 147)"/></g>
<path d="M46.6,83.4 L55.5,81.6 L54.6,75.4 L80.2,78.1 L78.5,86.1 L89.1,90.5 L96.2,88.7 L94.4,108.2 L113.9,124.1 L110.3,130.3 L94.4,131.2 L71.4,102.9 L57.2,95.8 L55.5,99.3 L47.5,97.6 Z" fill="#c5504a" />
<path d="M54.6,75.4 L80.2,78.1 L79.4,81.6 L55.1,79.0 Z" fill="#e8807a" />
<path d="M87.3,89.6 L96.2,88.7 L95.3,108.2 L83.8,102.9 Z" fill="#e27871" />
<path d="M78.5,86.1 L87.3,89.6 L83.8,102.9 L76.7,99.3 Z" fill="#6a1712" />
<path d="M48.4,79.9 Q32.5,85.2 45.7,94.9" fill="none" stroke="#e27871" stroke-width="1.2"/>
<path d="M103.3,101.1 L113.9,99.3 L113.9,124.1 L110.3,129.8 L94.4,124.5 L94.4,108.2 Z" fill="#e8807a" />
<path d="M94.4,124.1 L110.3,129.8 L96.2,135.6 L89.1,145.4 L83.8,138.3 Z" fill="#c5504a" />
<path d="M131.6,53.3 L137.2,56.0 L139.5,81.6 L140.1,104.6 L135.1,112.1 L129.8,110.0 L128.0,90.5 L138.7,81.6 L128.0,69.2 L135.1,56.9 Z" fill="#5a120e" />
<path d="M101.5,51.5 L110.3,49.8 L117.4,54.2 L131.6,53.3 L135.1,56.9 L128.0,69.2 L138.3,81.6 L128.0,90.5 L137.8,104.6 L135.1,111.7 L129.8,110.0 L113.9,108.2 L113.9,99.3 L105.0,101.1 L112.1,78.1 L115.6,60.4 Z" fill="#ff9d98" />
<path d="M101.5,51.5 L110.3,49.8 L117.4,54.2 L115.6,60.4 L106.8,55.1 Z" fill="#c5504a" />
<path d="M90.6,180.1 L99.1,179.4 L109.0,187.9 L99.1,212.0 L79.3,226.1 L68.0,228.9 L67.3,214.8 L72.2,202.0 L82.1,200.6 Z" fill="#4a0f0c" />
<path d="M38.2,200.6 L48.8,201.3 L46.7,210.5 L54.5,212.0 L56.6,206.3 L62.3,204.2 L77.2,168.1 L101.9,172.3 L99.1,179.4 L90.6,180.1 L82.1,200.6 L72.2,202.0 L67.3,214.8 L68.0,228.9 L42.5,224.7 L39.6,213.4 L29.7,204.2 Z" fill="#f59a94" />
<path d="M42.5,217.6 L68.0,220.5 L68.0,228.9 L42.5,224.7 Z" fill="#c5504a" />
<path d="M46.7,210.5 L54.5,212.0 L53.8,217.6 L45.3,216.5 Z" fill="#d8605a" />
<path d="M75.0,202.8 L82.1,201.3 L87.1,213.4 L80.7,215.5 Z" fill="#b84640" />
<path d="M92.0,181.5 L99.1,180.1 L105.5,192.1 L99.1,195.0 Z" fill="#b84640" />
<path d="M101.9,172.3 L109.0,173.7 L109.0,187.9 L99.1,179.4 Z" fill="#5a120e" />
<path d="M38.2,201.3 Q25.5,203.5 36.8,212.0" fill="none" stroke="#e27871" stroke-width="1.3"/>
<path d="M108.6,175.4 L115.6,179.0 L131.6,175.4 L128.0,184.3 L119.2,187.8 L124.5,194.9 L117.4,202.0 L113.9,212.6 L106.8,219.7 L94.4,209.1 L94.4,194.9 L106.8,184.3 Z" fill="#b84640" />
<path d="M119.2,187.8 L124.5,194.9 L117.4,202.0 L113.9,194.9 Z" fill="#5a120e" />
<path d="M78.5,156.0 L94.4,159.5 L94.4,166.6 L76.7,164.8 Z" fill="#c5504a" />
<path d="M113.9,108.2 L129.8,110.0 L122.7,118.8 L113.9,131.2 L112.1,166.6 L115.6,177.2 L113.9,179.9 L106.8,171.9 L94.4,164.8 L96.2,134.7 L110.3,129.4 L113.9,124.1 Z" fill="#1a1aff" />
<path d="M113.9,108.2 L129.8,110.5 L124.5,117.0 L113.9,115.6 Z" fill="#0d0dc0" />
<path d="M96.2,134.7 L110.3,129.4 L113.9,131.2 L113.0,138.3 L97.1,141.8 Z" fill="#4040ff" />
<ellipse cx="124.5" cy="146.2" rx="13" ry="32.5" transform="rotate(7 124.5 146.2)" fill="url(#wp4)"/>
<ellipse cx="132.5" cy="148" rx="11.5" ry="30.5" transform="rotate(7 132.5 148)" fill="#3a363a"/>
<path d="M128.5,120 L153,118.8 L153,149.5 L132,147.5 Q125,134 128.5,120 Z" fill="url(#wp4)"/>
<path d="M140.5,119.5 Q138,134 141.5,148.5" fill="none" stroke="#7a747a" stroke-width="0.6"/>
<ellipse cx="152.8" cy="134.5" rx="6.6" ry="14.4" transform="rotate(3 152.8 134.5)" fill="#3a363a"/>
<path d="M150.2,118.8 L153.7,111.7 L163.1,112.6 L159.9,122.3 Z" fill="#ffffff" />
<path d="M107.7,28.5 L113.9,24.1 L119.2,19.7 L151.0,5.5 L158.1,17.9 L149.3,30.3 L112.1,43.6 L110.3,32.1 Z" fill="#231f21" />
<path d="M113.9,24.1 L142.2,0.2 L159.9,3.8 L149.3,17.9 L119.2,26.8 Z" fill="#6a6266" />
<path d="M106.8,28.9 L119.2,20.0 L122.7,24.1 L111.2,31.7 Z" fill="#dcdce6" />
</svg></div>

<!-- arrows -->
<svg class="abs" style="left:290px;top:395.6px" width="24" height="16" viewBox="0 0 24 16"><path d="M3,8 H19.6 M15.4,4.2 L20.2,8 L15.4,11.8" fill="none" stroke="#000" stroke-width="1.5"/></svg>
<svg class="abs" style="left:285.6px;top:794.8px" width="24" height="16" viewBox="0 0 24 16"><path d="M3,8 H19.6 M15.4,4.2 L20.2,8 L15.4,11.8" fill="none" stroke="#000" stroke-width="1.5"/></svg>

<!-- footer -->
<svg class="abs" style="left:0;top:940px" width="791" height="84" viewBox="0 940 791 84">
 <path d="M0,955 H379.5 L372,966 H0 Z" fill="#cc0b12"/>
 <path d="M447.3,955 H791 V966 H455 Z" fill="#cc0b12"/>
<defs><linearGradient id="gcg" gradientUnits="userSpaceOnUse" x1="60" y1="1012" x2="92" y2="980"><stop offset="0" stop-color="#0a0a4a"/><stop offset="0.3" stop-color="#0c1686"/><stop offset="0.55" stop-color="#1024c0"/><stop offset="1" stop-color="#1c3ce6"/></linearGradient></defs>
<path d="M58,979 H92.2 V1010.2 L58,1013.2 Z" fill="url(#gcg)"/>
<path d="M58,990 L75,1011.7 L58,1013.2 Z" fill="#080838" fill-opacity="0.6"/>
<text x="0" y="0" transform="translate(64.6,1004.6) scale(0.66,1)" font-family="Liberation Sans, sans-serif" font-weight="bold" font-size="23.5" fill="#fff">Gc</text>
<text x="0" y="0" transform="translate(102,988) scale(0.93,1)" font-family="Liberation Sans, sans-serif" font-size="10.6" fill="#111" stroke="#111" stroke-width="0.25">3D SYSTEMS</text>
<circle cx="165.3" cy="981.6" r="0.9" fill="#111"/>
<text x="0" y="0" transform="translate(101.6,1009.8) scale(0.84,1)" font-family="Liberation Sans, sans-serif" font-weight="bold" font-size="19" fill="#111">GibbsCAM</text>
<circle cx="183.2" cy="998" r="1.3" fill="#111"/>
<circle cx="413.5" cy="982.9" r="34.2" fill="#fff" stroke="#2b3567" stroke-width="2.1"/>
<clipPath id="sealc"><circle cx="413.5" cy="982.9" r="32.4"/></clipPath>
<g clip-path="url(#sealc)"><rect x="370" y="981.4" width="90" height="40" fill="#2b3567"/></g>
<circle cx="413.5" cy="982.9" r="32.4" fill="none" stroke="#2b3567" stroke-width="0.8"/>
<circle cx="413.5" cy="983" r="18.2" fill="#1f5c98" stroke="#2b3567" stroke-width="1"/>
<circle cx="413.5" cy="983" r="14" fill="none" stroke="#17457a" stroke-width="3" stroke-dasharray="1 1"/>
<path id="arcT" d="M381.5,995 A32,32 0 0 1 445.5,995" fill="none"/>
<path id="arcB" d="M384.7,985.1 A28.8,28.8 0 0 0 442.3,985.1" fill="none"/>
<text font-family="Liberation Sans, sans-serif" font-weight="bold" fill="#2b3567" letter-spacing="0"><textPath href="#arcT" startOffset="50%" text-anchor="middle"><tspan font-size="10.8">G</tspan><tspan font-size="8.2">IBBS</tspan><tspan font-size="10.8">CAM</tspan></textPath></text>
<text font-family="Liberation Sans, sans-serif" font-weight="bold" fill="#fff" font-size="9.6" letter-spacing="3.9"><textPath href="#arcB" startOffset="50%" text-anchor="middle">COLLEGE</textPath></text>
<path d="M398.3,988.5 L406,992 L405,997 L397.5,993.5 Z" fill="#3f9ad6" stroke="#1d4f8a" stroke-width="0.4"/>
<path d="M428.7,988.5 L421,992 L422,997 L429.5,993.5 Z" fill="#3f9ad6" stroke="#1d4f8a" stroke-width="0.4"/>
<path d="M402.5,993 Q413.5,996.5 424.5,993 L423.5,998.3 Q413.5,1000.8 403.5,998.3 Z" fill="#2a3080" stroke="#c9b35a" stroke-width="0.5"/>
<text x="413.5" y="998.3" text-anchor="middle" font-family="Liberation Sans, sans-serif" font-weight="bold" font-size="3.8" fill="#d8c46a" letter-spacing="0.5">GCC</text>
<path d="M401.1,966.6 H425.9 V983 Q425.5,990 413.5,994.3 Q401.5,990 401.1,983 Z" fill="#a8292d" stroke="#c9b35a" stroke-width="0.7"/>
<path d="M406,969 l2,-0.6 l1.2,1.6 l1.6,-0.4 l1,1.6 l2.6,-1.8 l2.2,0.6 l1,2.2 l-0.8,2 l2.4,1.4 l2.2,-0.4 l-0.4,1.6 l-2.4,0.8 l-2.4,-0.8 l0.4,2.6 l2.6,2 l-0.6,1.6 l-2.4,-0.8 l0.6,3 l2,2 l-1.6,1 l-2.6,-2 l-1.4,-3 l-2.2,1.4 l-1,3 l1,1.6 l-2.4,0.4 l-0.6,-2.6 l1.2,-3.6 l-2.2,1 l-1.6,-0.6 l0.4,-1.6 l2.4,-0.6 l2,-2.4 l-1.6,-2.2 l-2.4,1.2 l-1.6,-1 l1.2,-1.4 l2.2,-0.4 l0.4,-2 l-2,-1.4 Z" fill="#e8d27a" stroke="#b89b3c" stroke-width="0.25"/>
<path d="M419.5,969.5 q3.5,-1.5 4,1.5 q0.3,2.5 -2.5,3 q2.5,1 2.2,3.5 q-0.5,2.5 -3,2.5" fill="none" stroke="#e8d27a" stroke-width="0.8"/>
<path d="M640.6,980 H668.5 L640,1006.5 V980.6 Z" fill="#1d2452"/>
<path d="M670.4,982 V1010 H642.5 Z" fill="#c8202c"/>
<circle cx="654.8" cy="995" r="9" fill="#fff" stroke="#1d2452" stroke-width="1.5"/>
<path d="M654.8,995 L650.5,989.5 Q654,988 657,989.5 Z M654.8,995 L660.3,990.7 Q661.8,994.2 660.3,997.2 Z M654.8,995 L659.1,1000.5 Q655.6,1002 652.6,1000.5 Z M654.8,995 L649.3,999.3 Q647.8,995.8 649.3,992.8 Z" fill="#1d2452"/>
<path d="M649.3,992.8 L650.5,989.5 L652.5,992 Z M657,989.5 L660.3,990.7 L657.8,992.7 Z M660.3,997.2 L659.1,1000.5 L657.1,998 Z M652.6,1000.5 L649.3,999.3 L651.8,997.3 Z" fill="#c8202c"/>
<g fill="none" stroke="#1d2452" stroke-width="4.3" stroke-linejoin="miter">
<path d="M704.5,982.2 H681 Q675.2,982.2 675.2,988 V994 Q675.2,999.8 681,999.8 H704.5" stroke-linejoin="round"/>
<path d="M705.5,1002 L721,982.5 L737.5,1002" stroke-width="4.6"/>
<path d="M742.2,1002 V980.2 M765.8,1002 V980.2 M742.2,982 L754,998.5 L765.8,982" stroke-width="4.4"/>
</g>
<text x="0" y="0" transform="translate(673.6,1010.7) scale(1.85,1)" font-family="Liberation Sans, sans-serif" font-size="8" fill="#c8202c" stroke="#c8202c" stroke-width="0.2" letter-spacing="0.75">SOLUTIONS</text>
</svg>
</body></html>
